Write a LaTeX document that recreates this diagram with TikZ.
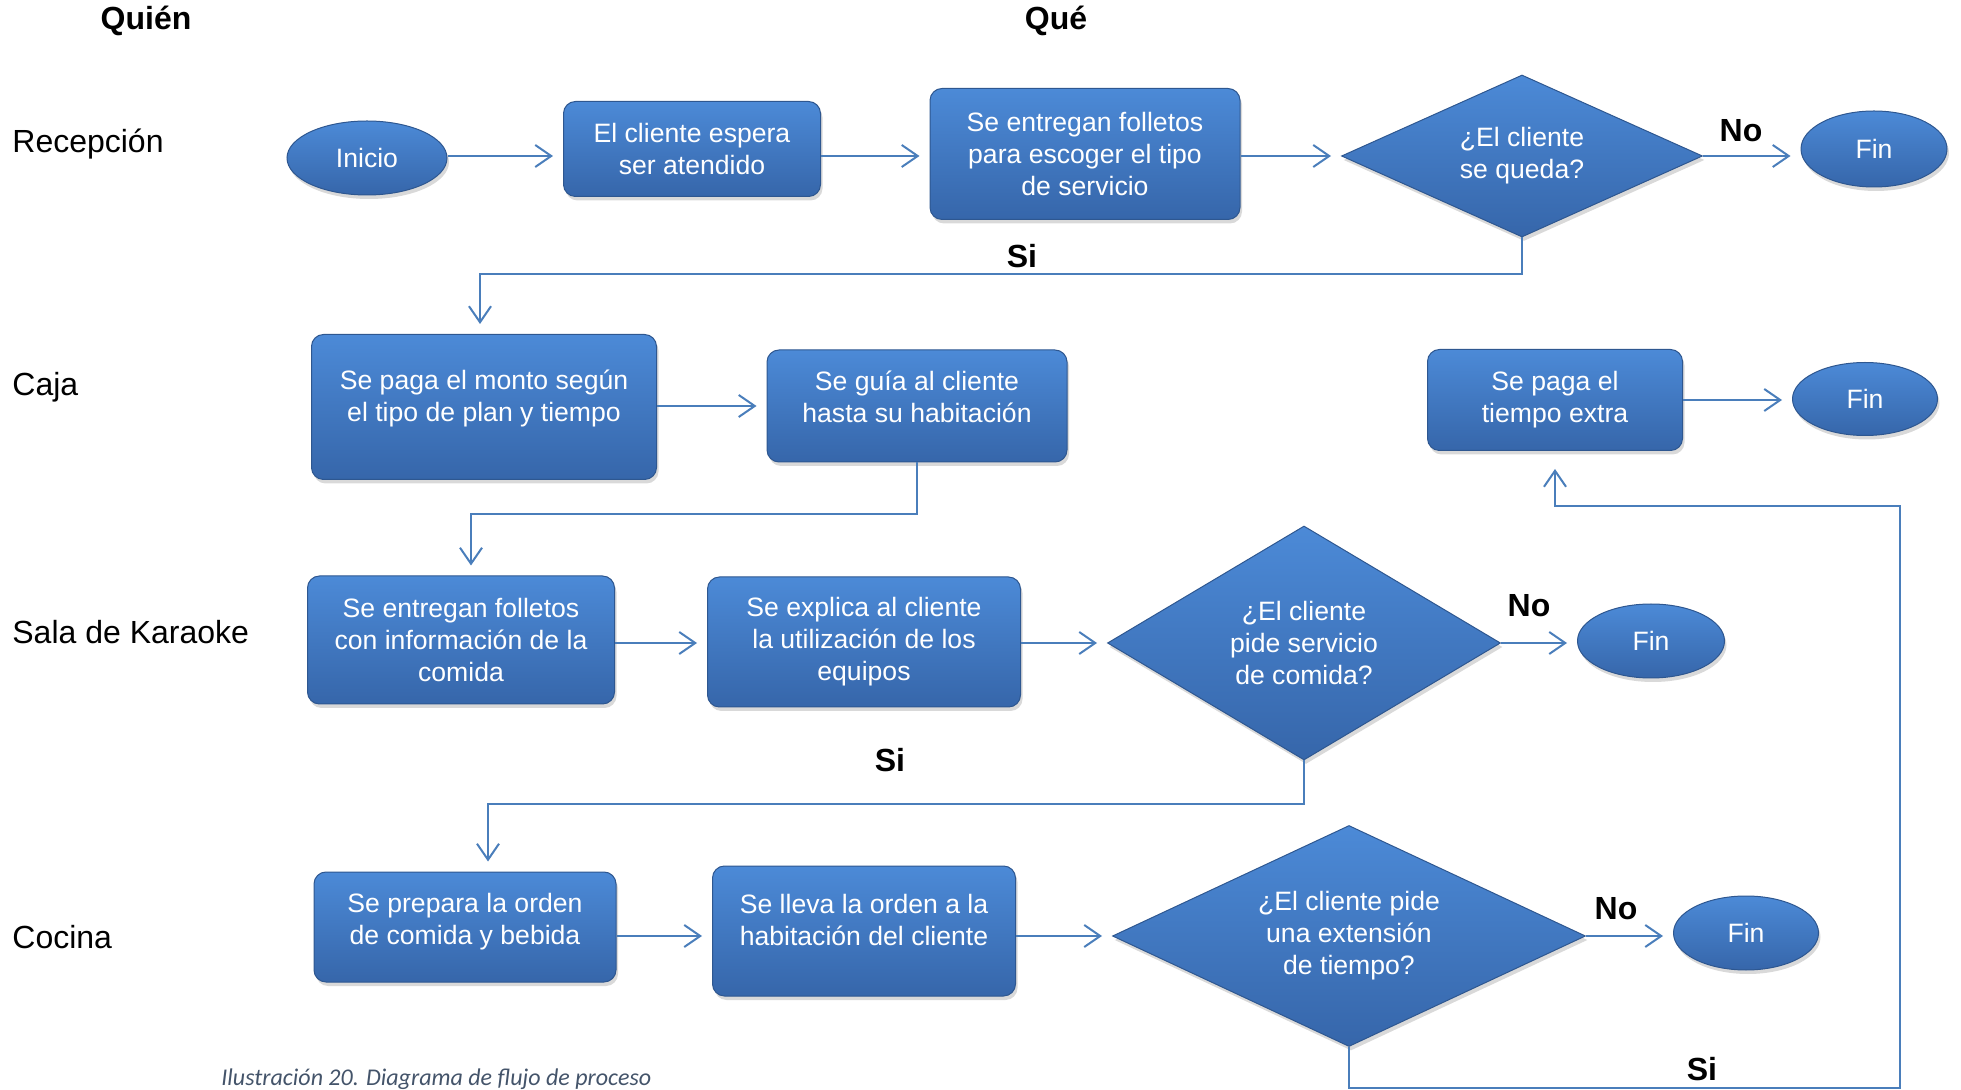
\documentclass[tikz,border=0pt]{standalone}
\usepackage{fontspec}
\setmainfont{Liberation Sans}
\newfontfamily\capfont{Carlito}
\usepackage{tikz}
\usetikzlibrary{shapes.geometric, shadows, arrows.meta, positioning}

\definecolor{lineblue}{RGB}{74,126,187}
\definecolor{topblue}{RGB}{76,138,215}
\definecolor{botblue}{RGB}{54,102,170}
\definecolor{capgray}{RGB}{68,84,106}

\begin{document}
\begin{tikzpicture}[x=0.5pt, y=-0.5pt,
    base/.style={top color=topblue, bottom color=botblue, draw=botblue!85!black, line width=0.5pt, text=white, align=center, inner sep=0pt, font=\fontsize{13.3}{16}\selectfont, drop shadow={opacity=0.3, shadow xshift=1pt, shadow yshift=-2pt}},
    rbox/.style={base, rectangle, rounded corners=6pt},
    dia/.style={base, diamond},
    oval/.style={base, ellipse},
    arr/.style={draw=lineblue, line width=1pt, -{Straight Barb[length=8pt, width=11pt]}, shorten >=5pt},
    lane/.style={anchor=west, inner sep=0pt, font=\fontsize{16}{19}\selectfont},
    tag/.style={font=\bfseries\fontsize{16}{19}\selectfont}]
            \useasboundingbox (0,0) rectangle (1961,1090);
            \node[tag] (quien) at (146,21) {Quién};
            \node[tag] (que) at (1056,21) {Qué};
            \node[lane] (recepcion) at (12,144) {Recepción};
            \node[lane] (caja) at (12,387) {Caja};
            \node[lane] (sala) at (12,632) {Sala de Karaoke};
            \node[lane] (cocina) at (12,937) {Cocina};
            %Recepcion
            \node[oval, minimum width=80pt, minimum height=37pt] (inicio) at (367,158) {Inicio};
            \node[rbox, minimum width=128.5pt, minimum height=47.5pt] (espera) at (692,149) {El cliente espera\\ser atendido};
            \node[rbox, minimum width=155pt, minimum height=65.5pt] (folletos) at (1085,154) {Se entregan folletos\\para escoger el tipo\\de servicio};
            \node[dia, aspect=2.23, minimum width=180.5pt, minimum height=81pt] (queda) at (1522,156) {¿El cliente\\se queda?};
            \node[oval, minimum width=73pt, minimum height=38pt] (fin1) at (1874,149) {Fin};
            %Caja
            \node[rbox, minimum width=172.5pt, minimum height=72.5pt] (monto) at (484,407) {Se paga el monto según\\el tipo de plan y tiempo\\[-5pt]};
            \node[rbox, minimum width=150pt, minimum height=56pt] (guia) at (917,406) {Se guía al cliente\\hasta su habitación\\[-7pt]};
            \node[rbox, minimum width=127.5pt, minimum height=50.5pt] (extra) at (1555,400) {Se paga el\\tiempo extra};
            \node[oval, minimum width=72.5pt, minimum height=36.5pt] (fin2) at (1865,399) {Fin};
            %Sala de Karaoke
            \node[rbox, minimum width=153.5pt, minimum height=64pt] (info) at (461,640) {Se entregan folletos\\con información de la\\comida};
            \node[rbox, minimum width=156.5pt, minimum height=65pt] (explica) at (864,642) {Se explica al cliente\\la utilización de los\\equipos};
            \node[dia, aspect=1.68, minimum width=196.5pt, minimum height=117pt] (comida) at (1304,643) {¿El cliente\\pide servicio\\de comida?};
            \node[oval, minimum width=73.5pt, minimum height=37pt] (fin3) at (1651,641) {Fin};
            %Cocina
            \node[rbox, minimum width=151pt, minimum height=55pt] (prepara) at (465,927) {Se prepara la orden\\de comida y bebida\\[-8pt]};
            \node[rbox, minimum width=151.5pt, minimum height=65pt] (lleva) at (864,931) {Se lleva la orden a la\\habitación del cliente\\[-5pt]};
            \node[dia, aspect=2.14, minimum width=236.5pt, minimum height=110.5pt] (extension) at (1349,936) {¿El cliente pide\\una extensión\\de tiempo?};
            \node[oval, minimum width=72.5pt, minimum height=37pt] (fin4) at (1746,933) {Fin};
            %Connectors
            \draw[arr] (inicio.east |- queda) -- (espera.west |- queda);
            \draw[arr] (espera.east |- queda) -- (folletos.west |- queda);
            \draw[arr] (folletos.east |- queda) -- (queda.west);
            \draw[arr] (queda.east) -- (queda.east -| fin1.west);
            \draw[arr] (queda.south) -- ++(0,37) -| ([xshift=-2pt]monto.north);
            \draw[arr] (monto.east |- guia) -- (guia.west);
            \draw[arr] (extra.east) -- (extra.east -| fin2.west);
            \draw[arr] (guia.south) -- ++(0,52) -| ([xshift=5pt]info.north);
            \draw[arr] (info.east |- comida) -- (explica.west |- comida);
            \draw[arr] (explica.east |- comida) -- (comida.west);
            \draw[arr] (comida.east) -- (comida.east -| fin3.west);
            \draw[arr] (comida.south) -- ++(0,44) -| ([xshift=11.5pt]prepara.north);
            \draw[arr] (prepara.east |- extension) -- (lleva.west |- extension);
            \draw[arr] (lleva.east |- extension) -- (extension.west);
            \draw[arr] (extension.east) -- (extension.east -| fin4.west);
            \coordinate (loop) at (1900,1088);
            \coordinate (turn) at (1900,506);
            \draw[arr, shorten >=9pt] (extension.south) |- (loop) -- (turn) -| (extra.south);
            \node[tag] (no1) at (1741,131) {No};
            \node[tag] (si1) at (1022,256) {Si};
            \node[tag] (no2) at (1529,606) {No};
            \node[tag] (si2) at (890,760) {Si};
            \node[tag] (no3) at (1616,909) {No};
            \node[tag] (si3) at (1702,1069) {Si};
            \node[anchor=west, inner sep=0pt, text=capgray, font=\capfont\itshape\fontsize{12}{14}\selectfont] (caption) at (221,1079) {Ilustración 20. Diagrama de flujo de proceso};
        \end{tikzpicture}
\end{document}
